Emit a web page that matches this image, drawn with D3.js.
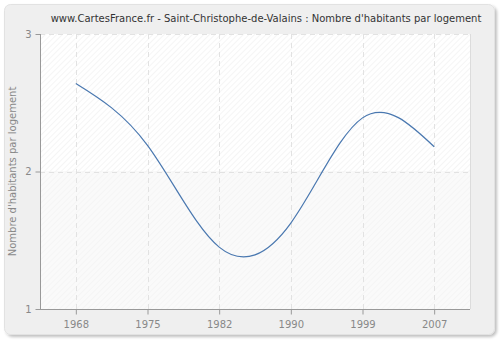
<!DOCTYPE html>
<html>
<head>
<meta charset="utf-8">
<script src="https://cdn.jsdelivr.net/npm/d3@7"></script>
<style>
  html, body { margin: 0; padding: 0; background: #ffffff; }
  svg { display: block; font-family: "DejaVu Sans", Verdana, sans-serif; }
</style>
</head>
<body>
<svg id="chart" width="500" height="340"></svg>
<script>
// Average number of inhabitants per dwelling, census years
const years = ["1968", "1975", "1982", "1990", "1999", "2007"];
const values = [2.64, 2.19, 1.45, 1.625, 2.39, 2.18];
const yTicks = [1, 2, 3];
const title = "www.CartesFrance.fr - Saint-Christophe-de-Valains : Nombre d'habitants par logement";
const yTitle = "Nombre d'habitants par logement";

const svg = d3.select("#chart");
const W = 500, H = 340;
const m = { left: 40, right: 30, top: 34, bottom: 31 };
const x0 = m.left, x1 = W - m.right, y0 = m.top, y1 = H - m.bottom;

const defs = svg.append("defs");
const shadow = defs.append("filter").attr("id", "shadow")
  .attr("x", "-5%").attr("y", "-5%").attr("width", "110%").attr("height", "110%");
shadow.append("feGaussianBlur").attr("in", "SourceAlpha").attr("stdDeviation", 1.5);
shadow.append("feOffset").attr("dx", 1.5).attr("dy", 1.5).attr("result", "b");
shadow.append("feComponentTransfer").append("feFuncA").attr("type", "linear").attr("slope", 0.25);
const mg = shadow.append("feMerge");
mg.append("feMergeNode");
mg.append("feMergeNode").attr("in", "SourceGraphic");

function hatch(id, bg, line) {
  const p = defs.append("pattern").attr("id", id)
    .attr("patternUnits", "userSpaceOnUse").attr("width", 4).attr("height", 4)
    .attr("patternTransform", "rotate(45)");
  p.append("rect").attr("width", 4).attr("height", 4).attr("fill", bg);
  p.append("line").attr("x1", 0).attr("y1", 0).attr("x2", 0).attr("y2", 4)
    .attr("stroke", line).attr("stroke-width", 1);
}
hatch("hatchA", "#ffffff", "#ebebeb");
hatch("hatchB", "#fafafa", "#f0f0f0");

// outer panel
svg.append("rect").attr("x", 4.5).attr("y", 4.5).attr("width", 490).attr("height", 330)
  .attr("rx", 6).attr("fill", "#efefef").attr("stroke", "#e2e2e2").attr("filter", "url(#shadow)");

const x = d3.scalePoint().domain(years).range([x0, x1]).padding(0.5);
const y = d3.scaleLinear().domain([1, 3]).range([y1, y0]);

// plot background bands
svg.append("rect").attr("x", x0).attr("y", y(3)).attr("width", x1 - x0).attr("height", y(2) - y(3))
  .attr("fill", "url(#hatchA)");
svg.append("rect").attr("x", x0).attr("y", y(2)).attr("width", x1 - x0).attr("height", y(1) - y(2))
  .attr("fill", "url(#hatchB)");
svg.append("line").attr("x1", x1 + 0.5).attr("x2", x1 + 0.5).attr("y1", y0).attr("y2", y1)
  .attr("stroke", "#dcdcdc");

// grid
const grid = svg.append("g").attr("stroke", "#e2e2e2").attr("stroke-dasharray", "5,4");
years.forEach(d => grid.append("line")
  .attr("x1", Math.round(x(d)) + 0.5).attr("x2", Math.round(x(d)) + 0.5)
  .attr("y1", y0).attr("y2", y1));
yTicks.forEach(v => grid.append("line")
  .attr("x1", x0).attr("x2", x1)
  .attr("y1", Math.round(y(v)) + 0.5).attr("y2", Math.round(y(v)) + 0.5));

// axes
const xAxis = svg.append("g").attr("transform", `translate(0,${y1 + 0.5})`)
  .call(d3.axisBottom(x).tickSize(5).tickPadding(6));
const yAxis = svg.append("g").attr("transform", `translate(${x0 + 0.5},0)`)
  .call(d3.axisLeft(y).tickValues(yTicks).tickFormat(d3.format("d")).tickSize(5).tickPadding(4));
[xAxis, yAxis].forEach(a => {
  a.select(".domain").attr("stroke", "#999999");
  a.selectAll(".tick line").attr("stroke", "#999999");
  a.selectAll(".tick text").attr("fill", "#888888").attr("font-size", 10)
    .attr("font-family", "\"DejaVu Sans\", Verdana, sans-serif");
});
xAxis.select(".domain").attr("d", `M${x0},0H${x1}`);
yAxis.select(".domain").attr("d", `M0,${y0}V${y1}`);

// series line
const line = d3.line()
  .x((d, i) => x(years[i]))
  .y(d => y(d))
  .curve(d3.curveNatural);
svg.append("path").datum(values).attr("d", line)
  .attr("fill", "none").attr("stroke", "#4a78b0").attr("stroke-width", 1.2);

// titles
svg.append("text").attr("x", 266).attr("y", 22).attr("text-anchor", "middle")
  .attr("font-size", 10).attr("fill", "#333333").text(title);
svg.append("text").attr("transform", `translate(16,${(y0 + y1) / 2}) rotate(-90)`)
  .attr("text-anchor", "middle").attr("font-size", 10).attr("fill", "#888888").text(yTitle);
</script>
</body>
</html>
